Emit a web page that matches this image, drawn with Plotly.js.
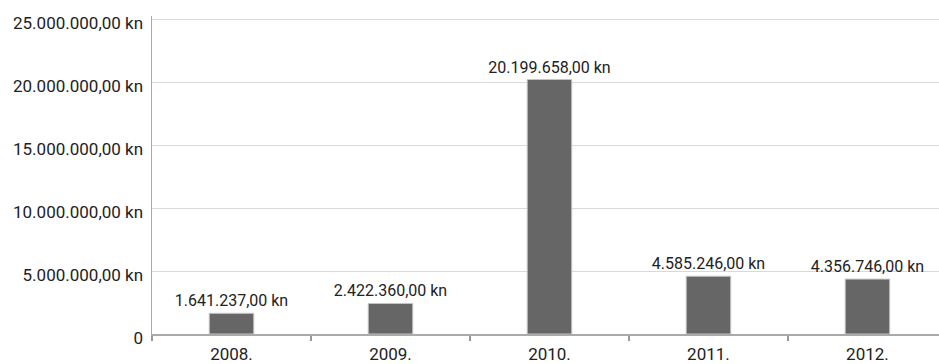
<!DOCTYPE html>
<html><head><meta charset="utf-8">
<script src="https://cdn.plot.ly/plotly-3.0.1.min.js"></script>
<style>html,body{margin:0;padding:0;background:#fff}#c{width:939px;height:364px}</style>
</head><body><div id="c"></div>
<script>
const years = ["2008.", "2009.", "2010.", "2011.", "2012."];
const amounts = [1641237, 2422360, 20199658, 4585246, 4356746];
const yTickVals = [0, 5000000, 10000000, 15000000, 20000000, 25000000];
const yTickText = ["0", "5.000.000,00 kn", "10.000.000,00 kn", "15.000.000,00 kn", "20.000.000,00 kn", "25.000.000,00 kn"];

const font = "Roboto, 'DejaVu Sans', sans-serif";
Plotly.newPlot("c", [{
  type: "bar",
  x: years,
  y: amounts,
  width: 0.28,
  marker: {color: "#666666", line: {color: "#c4c4c4", width: 1}},
  texttemplate: "%{y:,.2f} kn",
  textposition: "outside",
  constraintext: "none",
  cliponaxis: false,
  textfont: {family: font, size: 16, color: "#222"},
  hoverinfo: "none"
}], {
  width: 939, height: 364,
  separators: ",.",
  margin: {l: 152, r: 0, t: 16, b: 30, pad: 0, autoexpand: false},
  paper_bgcolor: "#fff", plot_bgcolor: "#fff",
  showlegend: false,
  font: {family: font, size: 16, color: "#222"},
  xaxis: {
    type: "category",
    range: [-0.5, 4.45],
    automargin: false,
    showline: true, linecolor: "#aaaaaa", linewidth: 1.5,
    ticks: "outside", tickson: "boundaries", ticklen: 5, tickcolor: "#999", tickwidth: 1.5,
    showgrid: false,
    tickfont: {family: font, size: 17, color: "#222"},
    ticklabelstandoff: 4
  },
  yaxis: {
    range: [0, 25240000],
    automargin: false,
    tickvals: yTickVals, ticktext: yTickText,
    showline: true, linecolor: "#aaaaaa", linewidth: 1.5,
    showgrid: true, gridcolor: "#d9d9d9", gridwidth: 1,
    zeroline: false,
    ticks: "", ticklabelstandoff: 4, ticklabelshift: 4,
    tickfont: {family: font, size: 17, color: "#222"}
  }
}, {staticPlot: true});
</script></body></html>
